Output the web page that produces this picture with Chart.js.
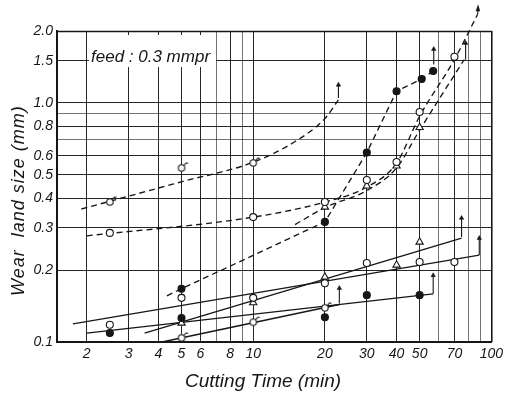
<!DOCTYPE html>
<html><head><meta charset="utf-8">
<script src="https://cdn.jsdelivr.net/npm/chart.js@4.4.0/dist/chart.umd.min.js"></script>
<style>html,body{margin:0;padding:0;background:#fff}</style>
</head><body>
<canvas id="c" width="507" height="396" style="display:block;width:507px;height:396px"></canvas>
<script>
// ---- axis ticks ----
const xGridValues = [2,3,4,5,6,7,8,9,10,20,30,40,50,60,70,80,90,100];
const xTickLabels = [2,3,4,5,6,8,10,20,30,40,50,70,100];
const yGridValues = [0.1,0.2,0.3,0.4,0.5,0.6,0.7,0.8,0.9,1.0,1.5,2.0];
const yTickLabels = [0.1,0.2,0.3,0.4,0.5,0.6,0.8,1.0,1.5,2.0];

// ---- measured points (markers) ----
const openCircleX = [2.5, 2.5, 5, 10, 10, 20, 20, 30, 30, 40, 50, 50, 70, 70];
const openCircleY = [0.118, 0.286, 0.153, 0.333, 0.153, 0.385, 0.176, 0.214, 0.476, 0.566, 0.216, 0.917, 0.216, 1.56];
const filledCircleX = [2.5, 5, 5, 20, 20, 30, 30, 40, 50, 51, 57];
const filledCircleY = [0.109, 0.167, 0.126, 0.318, 0.127, 0.62, 0.157, 1.12, 0.157, 1.26, 1.36];
const triangleX = [5, 10, 20, 20, 30, 40, 40, 50, 50];
const triangleY = [0.120, 0.146, 0.187, 0.367, 0.45, 0.21, 0.545, 0.262, 0.79];
const sigmaX = [2.5, 5, 10, 5, 10, 20];
const sigmaY = [0.385, 0.535, 0.561, 0.104, 0.121, 0.139];

// ---- solid fitted lines ----
const solidAX = [1.75, 89];  const solidAY = [0.119, 0.231];
const solidBX = [2.0, 57];   const solidBY = [0.109, 0.159];
const solidCX = [3.5, 75];   const solidCY = [0.109, 0.272];
const solidDX = [4.14, 23];  const solidDY = [0.100, 0.1435];

// ---- dashed curves ----
const dashAX = [1.9, 5, 10, 15, 20, 22.8];
const dashAY = [0.36, 0.468, 0.565, 0.69, 0.86, 1.03];
const dashBX = [2.0, 10, 20, 30, 40, 50, 70, 87.6];
const dashBY = [0.278, 0.333, 0.385, 0.445, 0.56, 0.88, 1.52, 2.35];
const dashCX = [15, 20, 30, 40, 50, 77];
const dashCY = [0.31, 0.365, 0.43, 0.535, 0.77, 1.52];
const dashDX = [4.34, 5, 20, 30, 40, 51, 57];
const dashDY = [0.156, 0.167, 0.318, 0.62, 1.12, 1.26, 1.36];

// ---- arrows (vertical, pointing up) ----
const arrowX  = [22.8, 57.3, 78, 89, 75, 57, 23];
const arrowY0 = [1.05, 1.45, 1.52, 0.231, 0.275, 0.159, 0.145];
const arrowY1 = [1.19, 1.68, 1.78, 0.272, 0.33, 0.19, 0.168];

const INK = '#161616';
const FONT = '"Liberation Sans", Arial, sans-serif';
const pts = (xs, ys) => xs.map((x, i) => ({x: x, y: ys[i]}));

function sigmaImg() {
  const c = document.createElement('canvas'); c.width = 16; c.height = 16;
  const g = c.getContext('2d');
  g.fillStyle = '#fff'; g.strokeStyle = INK; g.lineWidth = 1.1;
  g.beginPath(); g.arc(8, 8, 3.2, 0, Math.PI * 2); g.fill(); g.stroke();
  g.beginPath(); g.moveTo(10.3, 5.7); g.lineTo(12.6, 3.0); g.lineTo(14.6, 3.2); g.stroke();
  return c;
}
const sigma = sigmaImg();

const lineDs = (xs, ys, dashed, smooth) => ({
  data: pts(xs, ys), showLine: true, borderColor: INK, borderWidth: 1.35,
  borderDash: dashed ? [6, 4] : [], pointRadius: 0, tension: 0,
  cubicInterpolationMode: smooth ? 'monotone' : 'default', order: 2, clip: false
});
const markerDs = (xs, ys, style, fill, r) => ({
  data: pts(xs, ys), showLine: false, pointStyle: style, pointRadius: r,
  pointBackgroundColor: fill, pointBorderColor: INK, pointBorderWidth: 1.1, order: 0
});

const datasets = [
  markerDs(openCircleX, openCircleY, 'circle', '#fff', 3.5),
  markerDs(filledCircleX, filledCircleY, 'circle', INK, 3.5),
  markerDs(triangleX, triangleY, 'triangle', '#fff', 4.2),
  markerDs(sigmaX, sigmaY, sigma, '#fff', 5),
  lineDs(solidAX, solidAY, false, false),
  lineDs(solidBX, solidBY, false, false),
  lineDs(solidCX, solidCY, false, false),
  lineDs(solidDX, solidDY, false, false),
  lineDs(dashAX, dashAY, true, true),
  Object.assign(lineDs(dashBX, dashBY, true, true), {label: 'topArrow'}),
  lineDs(dashCX, dashCY, true, true),
  lineDs(dashDX, dashDY, true, false)
];
arrowX.forEach((x, i) => {
  datasets.push({
    data: [{x: x, y: arrowY0[i]}, {x: x, y: arrowY1[i]}], showLine: true,
    borderColor: INK, borderWidth: 1.1, pointStyle: 'triangle',
    pointRadius: [0, 2.6], pointBackgroundColor: INK, pointBorderColor: INK,
    pointBorderWidth: 0.5, order: 1, clip: false
  });
});

const decor = {
  id: 'decor',
  beforeDatasetsDraw(chart) {
    const ctx = chart.ctx;
    ctx.save();
    ctx.fillStyle = '#fff';
    ctx.fillRect(89, 35, 127, 32);
    ctx.fillStyle = INK;
    ctx.font = 'italic 17px ' + FONT;
    ctx.textBaseline = 'alphabetic';
    ctx.textAlign = 'left';
    ctx.fillText('feed : 0.3 mmpr', 91, 62);
    ctx.restore();
  },
  afterDatasetsDraw(chart) {
    const ctx = chart.ctx;
    const idx = chart.data.datasets.findIndex(d => d.label === 'topArrow');
    const meta = chart.getDatasetMeta(idx);
    const p = meta.data[meta.data.length - 1];
    ctx.save();
    ctx.fillStyle = INK;
    ctx.beginPath();
    ctx.moveTo(p.x + 0.5, p.y - 10);
    ctx.lineTo(p.x - 2, p.y - 3);
    ctx.lineTo(p.x + 2.5, p.y - 3);
    ctx.closePath(); ctx.fill();
    ctx.strokeStyle = INK; ctx.lineWidth = 1.1;
    ctx.beginPath(); ctx.moveTo(p.x, p.y); ctx.lineTo(p.x + 0.4, p.y - 4); ctx.stroke();
    ctx.restore();
  },
  afterDraw(chart) {
    const ctx = chart.ctx, a = chart.chartArea;
    ctx.save();
    ctx.strokeStyle = INK; ctx.lineWidth = 1.5;
    ctx.beginPath();
    ctx.moveTo(a.left, a.top + 0.5); ctx.lineTo(a.right + 0.5, a.top + 0.5); ctx.lineTo(a.right + 0.5, a.bottom);
    ctx.stroke();
    ctx.fillStyle = INK;
    ctx.font = 'italic 19px ' + FONT;
    ctx.textBaseline = 'alphabetic';
    ctx.textAlign = 'left';
    ctx.fillText('Cutting Time (min)', 185, 387);
    ctx.translate(24, 296);
    ctx.rotate(-Math.PI / 2);
    ctx.font = 'italic 18px ' + FONT;
    if ('letterSpacing' in ctx) ctx.letterSpacing = '1px';
    ctx.fillText('Wear  land size (mm)', 0, 0);
    ctx.restore();
  }
};

new Chart(document.getElementById('c'), {
  type: 'line',
  data: { datasets: datasets },
  options: {
    responsive: false, animation: false, devicePixelRatio: 1,
    layout: { padding: { left: 0, right: 12, top: 31, bottom: 0 } },
    plugins: { legend: { display: false }, tooltip: { enabled: false } },
    scales: {
      x: {
        type: 'logarithmic', min: 1.5, max: 100,
        afterBuildTicks: s => { s.ticks = xGridValues.map(v => ({value: v})); },
        afterFit: s => { s.height = 54; },
        ticks: {
          autoSkip: false, maxRotation: 0, padding: 4, color: INK,
          font: { family: FONT, size: 14, style: 'italic' },
          callback: v => xTickLabels.includes(v) ? String(v) : ''
        },
        grid: {
          drawTicks: false, lineWidth: 1,
          color: c => (c.tick && xTickLabels.includes(c.tick.value)) ? 'rgba(0,0,0,0.85)' : 'rgba(0,0,0,0.55)'
        },
        border: { display: true, color: INK, width: 2 }
      },
      y: {
        type: 'logarithmic', min: 0.1, max: 2.0,
        afterBuildTicks: s => { s.ticks = yGridValues.map(v => ({value: v})); },
        afterFit: s => { s.width = 57; },
        ticks: {
          autoSkip: false, padding: 4, color: INK,
          font: { family: FONT, size: 14, style: 'italic' },
          callback: v => yTickLabels.includes(v) ? v.toFixed(1) : ''
        },
        grid: {
          drawTicks: false, lineWidth: 1,
          color: c => (c.tick && yTickLabels.includes(c.tick.value)) ? 'rgba(0,0,0,0.85)' : 'rgba(0,0,0,0.55)'
        },
        border: { display: true, color: INK, width: 2 }
      }
    }
  },
  plugins: [decor]
});
</script>
</body></html>
